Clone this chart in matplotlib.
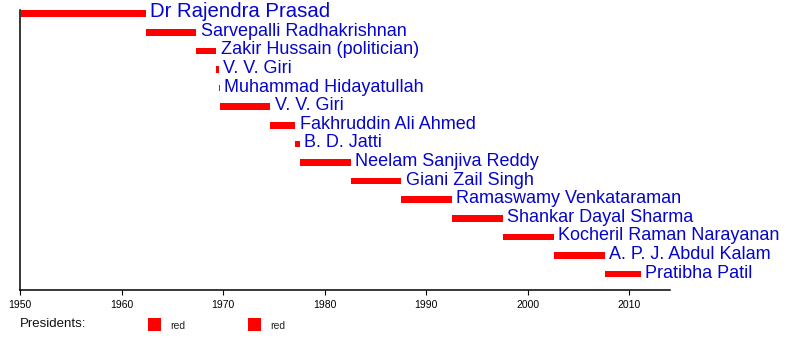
import matplotlib.pyplot as plt
from matplotlib.patches import Rectangle

plt.rcParams['font.family'] = ['Liberation Sans', 'DejaVu Sans']

# Presidents of India, terms as decimal years
names = [
    "Dr Rajendra Prasad",
    "Sarvepalli Radhakrishnan",
    "Zakir Hussain (politician)",
    "V. V. Giri",
    "Muhammad Hidayatullah",
    "V. V. Giri",
    "Fakhruddin Ali Ahmed",
    "B. D. Jatti",
    "Neelam Sanjiva Reddy",
    "Giani Zail Singh",
    "Ramaswamy Venkataraman",
    "Shankar Dayal Sharma",
    "Kocheril Raman Narayanan",
    "A. P. J. Abdul Kalam",
    "Pratibha Patil",
]
term_start = [1950.07, 1962.37, 1967.37, 1969.34, 1969.55, 1969.65, 1974.65,
              1977.11, 1977.56, 1982.56, 1987.56, 1992.56, 1997.56, 2002.56,
              2007.56]
term_end = [1962.37, 1967.37, 1969.34, 1969.55, 1969.65, 1974.65, 1977.11,
            1977.56, 1982.56, 1987.56, 1992.56, 1997.56, 2002.56, 2007.56,
            2011.10]
year_ticks = [1950, 1960, 1970, 1980, 1990, 2000, 2010]
legend_title = "Presidents:"
legend_labels = ["red", "red"]

bar_color = "#ff0000"
text_color = "#0505cc"

fig = plt.figure(figsize=(8, 3.4), dpi=100)
ax = fig.add_axes([0.025, 0.147, 0.8125, 0.8235])

rows = list(range(len(names)))
widths = [e - s for s, e in zip(term_start, term_end)]
ax.barh(rows, widths, left=term_start, height=0.35, color=bar_color, linewidth=0)

for i, (name, end) in enumerate(zip(names, term_end)):
    size = 14.7 if i == 0 else 13
    ax.annotate(name, xy=(end, i), xytext=(3, -2.5), textcoords='offset points',
                ha='left', va='baseline', color=text_color, fontsize=size,
                annotation_clip=False)

ax.set_xlim(1950, 2014)
ax.set_ylim(14.855, -0.2)
ax.set_xticks(year_ticks)
ax.set_xticklabels([str(y) for y in year_ticks])
ax.set_yticks([])
ax.tick_params(axis='x', direction='out', length=3.6, width=0.8,
               labelsize=7.5, colors='black', pad=3.5)
for side in ('top', 'right'):
    ax.spines[side].set_visible(False)
for side in ('left', 'bottom'):
    ax.spines[side].set_linewidth(1.1)

# legend row below the axis
fig.text(20 / 800, 1 - 324 / 340, legend_title, fontsize=9.5,
         ha='left', va='center', color='#111111')
for k, lab in enumerate(legend_labels):
    x0 = (148 + 100 * k) / 800
    fig.add_artist(Rectangle((x0, 1 - 331 / 340), 13 / 800, 13 / 340,
                             transform=fig.transFigure, color=bar_color, lw=0))
    fig.text(x0 + 22 / 800, 1 - 326 / 340, lab, fontsize=7.5,
             ha='left', va='center', color='#222222')

fig.savefig("out.png", dpi=100)
